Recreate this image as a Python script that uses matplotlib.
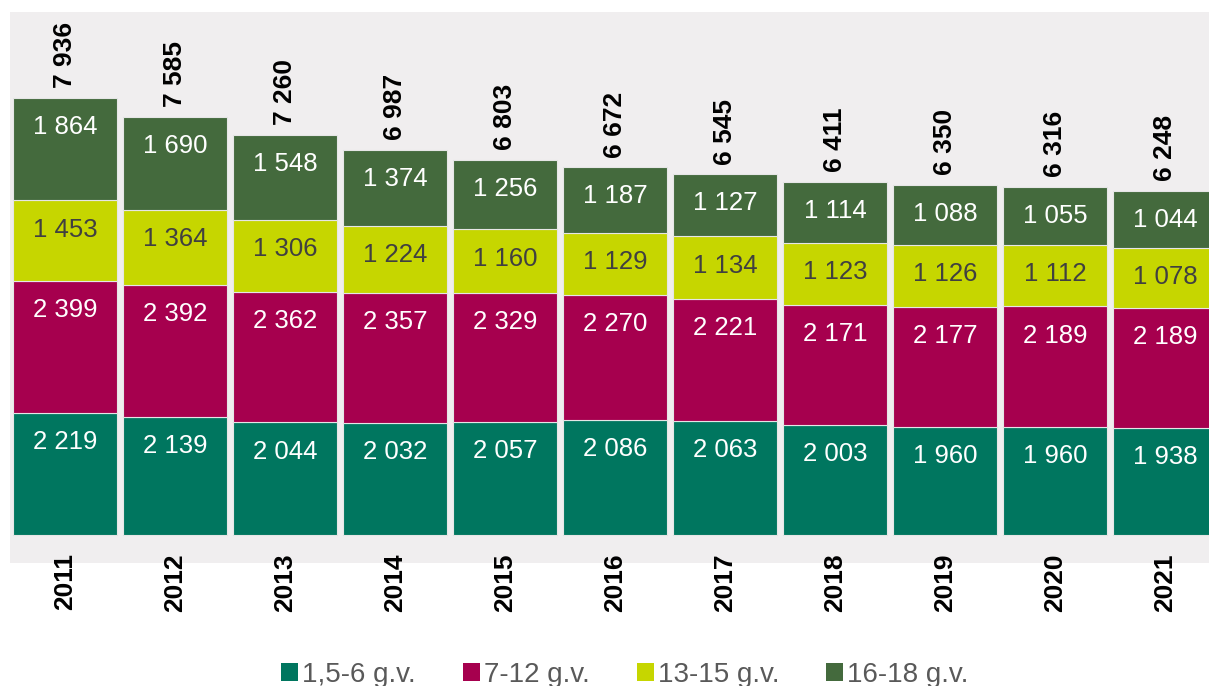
import matplotlib
matplotlib.use("Agg")
import matplotlib.pyplot as plt
from matplotlib.patches import Patch

plt.rcParams['font.family'] = ['Liberation Sans', 'DejaVu Sans']

years = ["2011", "2012", "2013", "2014", "2015", "2016", "2017", "2018", "2019", "2020", "2021"]
g_1_6 = [2219, 2139, 2044, 2032, 2057, 2086, 2063, 2003, 1960, 1960, 1938]
g_7_12 = [2399, 2392, 2362, 2357, 2329, 2270, 2221, 2171, 2177, 2189, 2189]
g_13_15 = [1453, 1364, 1306, 1224, 1160, 1129, 1134, 1123, 1126, 1112, 1078]
g_16_18 = [1864, 1690, 1548, 1374, 1256, 1187, 1127, 1114, 1088, 1055, 1044]
totals = [7936, 7585, 7260, 6987, 6803, 6672, 6545, 6411, 6350, 6316, 6248]

series_names = ["1,5-6 g.v.", "7-12 g.v.", "13-15 g.v.", "16-18 g.v."]
series = [g_1_6, g_7_12, g_13_15, g_16_18]
colors = ["#00765F", "#A6004E", "#C6D600", "#446A3D"]
text_colors = ["white", "white", "#404040", "white"]


def fmt(v):
    # thousands separated by a space
    return "{:,}".format(v).replace(",", " ")


fig = plt.figure(figsize=(12.09, 6.86), dpi=100)
ax = fig.add_axes([10 / 1209, 123 / 686, 1 - 10 / 1209, 551 / 686])
ax.set_facecolor("#F0EEEF")

x = list(range(len(years)))
bottom = [0] * len(years)
for vals, col, tcol in zip(series, colors, text_colors):
    ax.bar(x, vals, bottom=bottom, width=0.95, color=col, edgecolor="#E6E6E6", linewidth=0.8)
    for i, v in enumerate(vals):
        top = bottom[i] + v
        ax.annotate(fmt(v), (i, top), xytext=(0, -21), textcoords="offset points",
                    ha="center", va="center", color=tcol, fontsize=18.5)
    bottom = [b + v for b, v in zip(bottom, vals)]

for i, t in enumerate(totals):
    ax.annotate(fmt(t), (i, bottom[i]), xytext=(0, 7), textcoords="offset points",
                ha="center", va="bottom", rotation=90, fontsize=19, fontweight="bold")

ax.set_xlim(-0.5, 10.4)
ax.set_ylim(-508, 9490)
ax.set_xticks(x)
ax.set_xticklabels(years, rotation=90, fontsize=19, fontweight="bold")
ax.tick_params(axis="x", length=0, pad=-7)
ax.set_yticks([])
for s in ax.spines.values():
    s.set_visible(False)

handles = [Patch(facecolor=c, edgecolor="none") for c in colors]
fig.legend(handles, series_names, loc="center", bbox_to_anchor=(0.517, 0.016), ncol=4,
           frameon=False, fontsize=20, handlelength=0.6, handleheight=0.6,
           handletextpad=0.15, columnspacing=1.7, labelcolor="#595959")

fig.savefig("out.png", dpi=100)
